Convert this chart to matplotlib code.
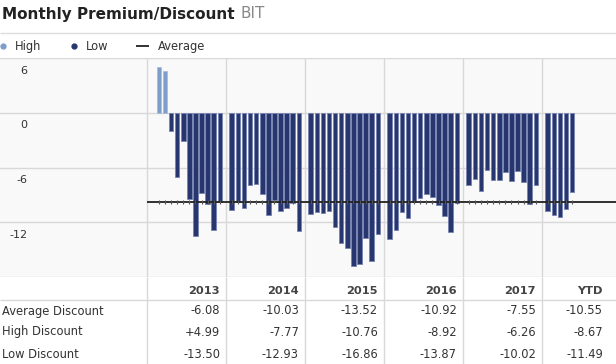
import numpy as np
import matplotlib
matplotlib.use("Agg")
import matplotlib.pyplot as plt

# monthly premium/discount values per year column (first bar of 2013 is February)
years = ["2013", "2014", "2015", "2016", "2017", "YTD"]
first_month = [1, 0, 0, 0, 0, 0]
vals_2013 = [4.99, 4.6, -2.0, -7.05, -3.05, -9.45, -13.50, -8.8, -10.05, -12.9, -9.8]
vals_2014 = [-10.65, -9.8, -10.45, -7.95, -7.77, -8.95, -11.2, -9.55, -10.8, -10.44, -9.93, -12.93]
vals_2015 = [-11.1, -10.9, -11.0, -10.76, -12.55, -14.35, -14.9, -16.86, -16.6, -13.8, -16.25, -13.3]
vals_2016 = [-13.87, -12.85, -10.9, -11.55, -9.74, -9.4, -8.92, -9.26, -10.11, -11.36, -13.13, -9.93]
vals_2017 = [-7.95, -7.25, -8.6, -6.26, -7.4, -7.4, -6.5, -7.5, -6.35, -7.55, -10.02, -7.95]
vals_ytd = [-10.8, -11.2, -11.49, -10.6, -8.67]
all_vals = [vals_2013, vals_2014, vals_2015, vals_2016, vals_2017, vals_ytd]

yticks = [6, 0, -6, -12]

# summary table
row_labels = ["Average Discount", "High Discount", "Low Discount"]
avg_discount = ["-6.08", "-10.03", "-13.52", "-10.92", "-7.55", "-10.55"]
high_discount = ["+4.99", "-7.77", "-10.76", "-8.92", "-6.26", "-8.67"]
low_discount = ["-13.50", "-12.93", "-16.86", "-13.87", "-10.02", "-11.49"]
table_rows = [avg_discount, high_discount, low_discount]

W, H = 616, 364
COL0, COLW = 147, 79
PLOT_TOP, PLOT_BOT = 58.3, 276.7
DARK = "#27366f"
DARK_EDGE = "#7782b0"
LIGHT = "#7f9dcb"
LIGHT_EDGE = "#a8bcdf"
GRID = "#d8d8d8"
TXT = "#333333"
FONT = "DejaVu Sans"

fig = plt.figure(figsize=(W / 100, H / 100), dpi=100)
fig.patch.set_facecolor("white")

# background / text layer in pixel coordinates
bg = fig.add_axes([0, 0, 1, 1])
bg.set_xlim(0, W)
bg.set_ylim(H, 0)
bg.axis("off")

bg.text(2, 14, "Monthly Premium/Discount", fontsize=11, fontweight="bold",
        color="#222222", va="center", ha="left", family=FONT)
bg.text(240, 14, "BIT", fontsize=11, color="#888888", va="center", ha="left", family=FONT)
bg.hlines(33, 0, W, color="#dddddd", lw=1)

# legend row
bg.plot([3], [46], "o", ms=3.5, color=LIGHT, mec=LIGHT)
bg.text(15, 46.5, "High", fontsize=8.3, color=TXT, va="center", family=FONT)
bg.plot([74], [46], "o", ms=3.5, color=DARK, mec=DARK)
bg.text(86, 46.5, "Low", fontsize=8.3, color=TXT, va="center", family=FONT)
bg.hlines(46, 136, 149, color="#222222", lw=1.3)
bg.text(158, 46.5, "Average", fontsize=8.3, color=TXT, va="center", family=FONT)

# table
for i in range(len(years)):
    bg.vlines(COL0 + COLW * i, PLOT_BOT, H, color=GRID, lw=1)
bg.hlines(300, 0, W, color=GRID, lw=1)
col_right = [COL0 + COLW * (i + 1) - 6 for i in range(len(years) - 1)] + [603]
for i, yr in enumerate(years):
    bg.text(col_right[i], 290.5, yr, fontsize=8.2, fontweight="bold", color="#444444",
            ha="right", va="center", family=FONT)
row_y = [311, 332, 354]
for r, (lab, row) in enumerate(zip(row_labels, table_rows)):
    bg.text(2, row_y[r], lab, fontsize=8.3, color=TXT, ha="left", va="center", family=FONT)
    for i, v in enumerate(row):
        bg.text(col_right[i], row_y[r], v, fontsize=8.3, color=TXT, ha="right",
                va="center", family=FONT)

# chart axes, x in year-column units
ax = fig.add_axes([0, 1 - PLOT_BOT / H, 1, (PLOT_BOT - PLOT_TOP) / H])
ax.set_facecolor("#f9f9f9")
ax.set_xlim(-COL0 / COLW, (W - COL0) / COLW)
ax.set_ylim(-18, 6)
ax.set_yticks([6, 0, -6, -12, -18])
ax.set_xticks(range(len(years)))
ax.grid(True, color=GRID, lw=1)
ax.set_axisbelow(True)
ax.tick_params(length=0, labelleft=False, labelbottom=False)
for s in ax.spines.values():
    s.set_visible(False)

step = 6.1 / COLW
offset = 5.7 / COLW
xs_all, ys_all = [], []
for i, vals in enumerate(all_vals):
    months = np.arange(first_month[i], first_month[i] + len(vals))
    x = i + offset + months * step
    v = np.array(vals)
    colors = [LIGHT if val > 0 else DARK for val in v]
    edges = [LIGHT_EDGE if val > 0 else DARK_EDGE for val in v]
    ax.bar(x, v, width=4.6 / COLW, color=colors, edgecolor=edges, linewidth=0.6, zorder=2)
    xs_all.extend(x)
    ys_all.extend(v)

# average line over all months, with small ticks at each month
avg = np.mean(ys_all)
ax.hlines(avg, 0, ax.get_xlim()[1], color="#222222", lw=1.3, zorder=3)
ax.plot(xs_all, [avg] * len(xs_all), ls="none", marker="|", ms=2.5, mew=0.8,
        color="#555555", zorder=3)

for t in yticks:
    ax.text((27.3 - COL0) / COLW, t - 1.37, str(t), fontsize=8, color=TXT,
            ha="right", va="center", family=FONT)

fig.savefig("out.png", dpi=100)
